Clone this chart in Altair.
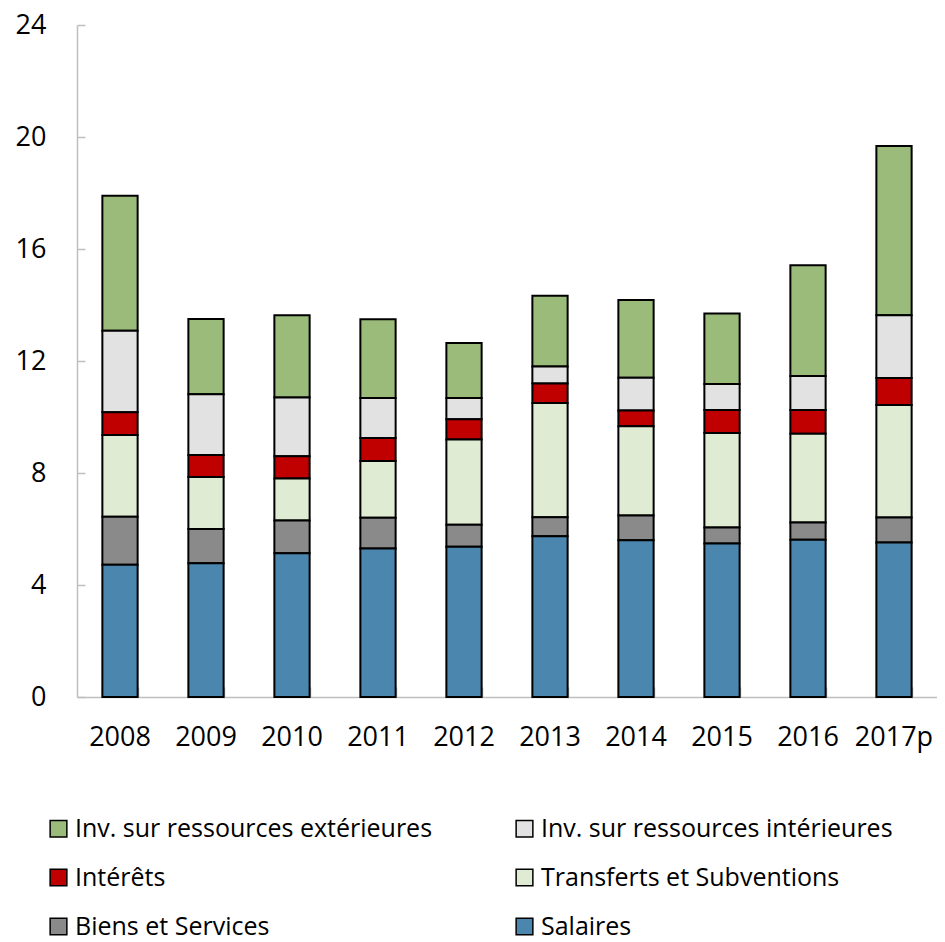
import altair as alt
import pandas as pd

years = ["2008", "2009", "2010", "2011", "2012", "2013", "2014", "2015", "2016", "2017p"]
series = [
    "Inv. sur ressources extérieures",
    "Inv. sur ressources intérieures",
    "Intérêts",
    "Transferts et Subventions",
    "Biens et Services",
    "Salaires",
]
salaires = [4.72, 4.78, 5.13, 5.30, 5.37, 5.74, 5.60, 5.48, 5.62, 5.52]
biens = [1.72, 1.22, 1.17, 1.10, 0.78, 0.68, 0.88, 0.57, 0.61, 0.89]
transferts = [2.92, 1.86, 1.50, 2.03, 3.05, 4.08, 3.19, 3.38, 3.17, 4.02]
interets = [0.81, 0.78, 0.80, 0.82, 0.72, 0.70, 0.56, 0.82, 0.85, 0.96]
inv_int = [2.91, 2.17, 2.10, 1.43, 0.76, 0.60, 1.17, 0.93, 1.21, 2.24]
inv_ext = [4.82, 2.69, 2.93, 2.81, 1.96, 2.53, 2.78, 2.52, 3.96, 6.05]
colors = ["#9BBB7A", "#E2E2E2", "#C00000", "#E0EBD3", "#8A8A8A", "#4A86AE"]
y_ticks = [0, 4, 8, 12, 16, 20, 24]

values_by_series = [inv_ext, inv_int, interets, transferts, biens, salaires]
rows = []
for s_idx, (name, vals) in enumerate(zip(series, values_by_series)):
    for y, v in zip(years, vals):
        rows.append({"year": y, "series": name, "value": v, "ord": len(series) - 1 - s_idx})
df = pd.DataFrame(rows)

FONT = "Open Sans"
GREY = "#BFBFBF"

x_scale = alt.Scale(paddingInner=0.59, paddingOuter=0.295)
y_scale = alt.Scale(domain=[0, 24], nice=False)

bars = alt.Chart(df).mark_bar(stroke="black", strokeWidth=2).encode(
    x=alt.X("year:N", sort=years, scale=x_scale,
            axis=alt.Axis(orient="bottom", title=None, labelAngle=0, ticks=False,
                          domainColor=GREY, domainWidth=1.5, labelFont=FONT,
                          labelFontSize=27, labelColor="black", labelPadding=27)),
    y=alt.Y("value:Q", stack="zero", scale=y_scale,
            axis=alt.Axis(orient="left", title=None, values=y_ticks, ticks=False, grid=False,
                          domainColor=GREY, domainWidth=1.5, labelFont=FONT,
                          labelFontSize=27, labelColor="black", labelPadding=31)),
    color=alt.Color("series:N", scale=alt.Scale(domain=series, range=colors),
                    legend=alt.Legend(orient="none", legendX=-31, legendY=791, columns=2,
                                      direction="horizontal", padding=0,
                                      title=None, symbolType="square", symbolSize=280,
                                      symbolStrokeColor="black", symbolStrokeWidth=1.5,
                                      labelFont=FONT, labelFontSize=25, labelColor="black",
                                      labelOffset=4, rowPadding=23, columnPadding=79,
                                      labelLimit=600)),
    order=alt.Order("ord:Q", sort="ascending"),
)

tick_layer = alt.Chart(df).mark_bar(opacity=0).encode(
    x=alt.X("year:N", sort=years, scale=x_scale,
            axis=alt.Axis(orient="bottom", offset=-10, domain=False, labels=False,
                          ticks=True, tickSize=10, tickBand="extent", tickColor=GREY,
                          tickWidth=1.5, title=None, grid=False)),
    y=alt.Y("value:Q", stack="zero", scale=y_scale,
            axis=alt.Axis(orient="left", offset=-8, domain=False, labels=False,
                          ticks=True, tickSize=8, tickColor=GREY, tickWidth=1.5,
                          values=y_ticks, title=None, grid=False)),
    order=alt.Order("ord:Q", sort="ascending"),
)

chart = alt.layer(bars, tick_layer).resolve_axis(x="independent", y="independent").properties(
    width=860, height=672,
    autosize=alt.AutoSizeParams(type="none"),
    padding={"left": 69, "top": 17, "right": 0, "bottom": 240},
).configure_view(stroke=None)

chart.save("out.html", embed_options={"renderer": "svg", "actions": False})
